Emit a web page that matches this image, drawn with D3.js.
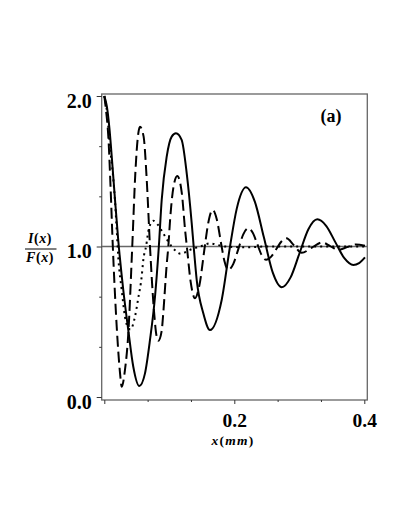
<!DOCTYPE html>
<html>
<head>
<meta charset="utf-8">
<script src="https://cdn.jsdelivr.net/npm/d3@7"></script>
<style>
html, body { margin: 0; padding: 0; background: #fff; }
svg { display: block; }
</style>
</head>
<body>
<div id="chart"></div>
<script>
// curve values, x in mm
const solidX = [0, 0.004, 0.008, 0.0114, 0.0165, 0.0215, 0.0292, 0.0369, 0.0446, 0.0538, 0.0626, 0.0703, 0.078, 0.0839, 0.0883, 0.096, 0.1037, 0.1103, 0.119, 0.1268, 0.1345, 0.1375, 0.1422, 0.1523, 0.1626, 0.1806, 0.1934, 0.2037, 0.218, 0.2317, 0.2455, 0.2592, 0.2729, 0.2866, 0.3003, 0.314, 0.3277, 0.3416, 0.3554, 0.3693, 0.3831, 0.392, 0.401];
const solidY = [2.0, 1.93, 1.78, 1.6, 1.31, 1.04, 0.711, 0.445, 0.201, 0.073, 0.157, 0.379, 0.666, 1.0, 1.309, 1.597, 1.73, 1.752, 1.708, 1.486, 1.154, 1.0, 0.777, 0.556, 0.445, 0.645, 1.0, 1.25, 1.393, 1.296, 1.061, 0.826, 0.729, 0.795, 0.955, 1.115, 1.181, 1.136, 1.029, 0.922, 0.877, 0.89, 0.928];

const dashedX = [0, 0.0026, 0.0065, 0.0095, 0.0131, 0.0191, 0.0242, 0.0268, 0.0318, 0.0369, 0.043, 0.0479, 0.0523, 0.0549, 0.0605, 0.0652, 0.0703, 0.0761, 0.0806, 0.0831, 0.0883, 0.0904, 0.096, 0.0985, 0.1011, 0.1062, 0.1123, 0.1191, 0.1245, 0.127, 0.1327, 0.1395, 0.1463, 0.1546, 0.16, 0.1668, 0.1728, 0.1805, 0.1848, 0.1908, 0.1985, 0.2062, 0.2138, 0.2215, 0.2284, 0.2353, 0.2421, 0.249, 0.2568, 0.2647, 0.2725, 0.2803, 0.292, 0.3037, 0.3194, 0.335, 0.3475, 0.36, 0.3735, 0.387, 0.401];
const dashedY = [2.0, 1.907, 1.708, 1.409, 1.0, 0.467, 0.159, 0.068, 0.18, 0.42, 1.0, 1.5, 1.752, 1.796, 1.73, 1.45, 1.0, 0.59, 0.4, 0.374, 0.44, 0.54, 0.88, 1.0, 1.17, 1.39, 1.468, 1.36, 1.1, 1.0, 0.77, 0.656, 0.742, 1.0, 1.158, 1.243, 1.185, 1.0, 0.903, 0.844, 0.885, 0.983, 1.081, 1.121, 1.091, 1.017, 0.943, 0.912, 0.933, 0.983, 1.033, 1.054, 1.006, 0.958, 0.993, 1.027, 1.003, 0.978, 0.996, 1.013, 1.005];

const dottedX = [0, 0.004, 0.0088, 0.0138, 0.0165, 0.0191, 0.0215, 0.0268, 0.0318, 0.0369, 0.0403, 0.0472, 0.0523, 0.0575, 0.06, 0.0642, 0.0688, 0.0754, 0.0826, 0.0903, 0.1037, 0.1175, 0.1318, 0.1472, 0.1626, 0.1857, 0.2165, 0.25, 0.401];
const dottedY = [2.0, 1.9, 1.66, 1.45, 1.3, 1.11, 0.93, 0.711, 0.534, 0.458, 0.449, 0.534, 0.658, 0.8, 0.91, 1.0, 1.123, 1.171, 1.143, 1.09, 1.0, 0.952, 0.978, 1.0, 1.02, 1.0, 0.995, 1.0, 1.0];

const xTicks = [0, 1 / 15, 2 / 15, 0.2, 4 / 15, 1 / 3, 0.4];
const xTickLabels = ["", "", "", "0.2", "", "", "0.4"];
const yTicks = [0, 1 / 3, 2 / 3, 1, 4 / 3, 5 / 3, 2];
const yTickLabels = ["0.0", "", "", "1.0", "", "", "2.0"];

const width = 409;
const height = 529;
const frame = { left: 101.7, right: 367.3, top: 94, bottom: 400 };
const serif = "'Liberation Serif', 'Times New Roman', serif";

const svg = d3.select("#chart")
    .append("svg")
    .attr("width", width)
    .attr("height", height);

const x = d3.scaleLinear().domain([0, 0.4]).range([104.3, 364.3]);
const y = d3.scaleLinear().domain([0, 2]).range([397, 96]);

// frame
svg.append("rect")
    .attr("x", frame.left)
    .attr("y", frame.top)
    .attr("width", frame.right - frame.left)
    .attr("height", frame.bottom - frame.top)
    .attr("fill", "none")
    .attr("stroke", "#666")
    .attr("stroke-width", 1.3);

// reference line at 1
svg.append("line")
    .attr("x1", frame.left).attr("x2", frame.right)
    .attr("y1", y(1)).attr("y2", y(1))
    .attr("stroke", "#666")
    .attr("stroke-width", 1.4);

// x axis
const gx = svg.append("g")
    .attr("transform", `translate(0,${frame.bottom})`)
    .call(d3.axisBottom(x)
        .tickValues(xTicks)
        .tickFormat((d, i) => xTickLabels[i])
        .tickSize(4)
        .tickPadding(9));
gx.select(".domain").remove();
gx.selectAll(".tick line")
    .attr("y2", (d, i) => (i % 3 === 0 ? 4 : 2))
    .attr("stroke", "#333");
gx.selectAll("text")
    .attr("font-family", serif)
    .attr("font-size", 19.5)
    .attr("font-weight", "bold")
    .attr("fill", "#000");

// y axis
const gy = svg.append("g")
    .attr("transform", `translate(${frame.left},0)`)
    .call(d3.axisLeft(y)
        .tickValues(yTicks)
        .tickFormat((d, i) => yTickLabels[i])
        .tickSize(5)
        .tickPadding(5));
gy.select(".domain").remove();
gy.selectAll(".tick line")
    .attr("x2", (d, i) => (i % 3 === 0 ? -5 : -2.5))
    .attr("stroke", "#333");
gy.selectAll("text")
    .attr("dy", "0.55em")
    .attr("font-family", serif)
    .attr("font-size", 20)
    .attr("font-weight", "bold")
    .attr("fill", "#000");

// curves
const line = d3.line()
    .x(d => x(d[0]))
    .y(d => y(d[1]))
    .curve(d3.curveMonotoneX);

const series = [
    { xs: solidX, ys: solidY, dash: null },
    { xs: dashedX, ys: dashedY, dash: "11,5" },
    { xs: dottedX, ys: dottedY, dash: "2,4" }
];

svg.selectAll("path.curve")
    .data(series)
    .enter()
    .append("path")
    .attr("class", "curve")
    .attr("d", d => line(d3.zip(d.xs, d.ys)))
    .attr("fill", "none")
    .attr("stroke", "#000")
    .attr("stroke-width", 2)
    .attr("stroke-dasharray", d => d.dash);

// x axis title
const xt = svg.append("text")
    .attr("x", 233)
    .attr("y", 445)
    .attr("text-anchor", "middle")
    .attr("font-family", serif)
    .attr("font-size", 13.5)
    .attr("font-weight", "bold")
    .attr("letter-spacing", 1.2);
xt.append("tspan").attr("font-style", "italic").text("x");
xt.append("tspan").text("(");
xt.append("tspan").attr("font-style", "italic").text("mm");
xt.append("tspan").text(")");

// y axis title, as a fraction
function fracPart(text, yPos) {
    const t = svg.append("text")
        .attr("x", 40)
        .attr("y", yPos)
        .attr("text-anchor", "middle")
        .attr("font-family", serif)
        .attr("font-size", 14)
        .attr("font-weight", "bold")
        .attr("letter-spacing", 0.6);
    t.append("tspan").attr("font-style", "italic").text(text);
    t.append("tspan").text("(");
    t.append("tspan").attr("font-style", "italic").text("x");
    t.append("tspan").text(")");
}
fracPart("I", 243);
fracPart("F", 262);
svg.append("line")
    .attr("x1", 25).attr("x2", 56.5)
    .attr("y1", 249).attr("y2", 249)
    .attr("stroke", "#000")
    .attr("stroke-width", 1);

// panel label
svg.append("text")
    .attr("x", 331)
    .attr("y", 122)
    .attr("text-anchor", "middle")
    .attr("font-family", serif)
    .attr("font-size", 18)
    .attr("font-weight", "bold")
    .text("(a)");
</script>
</body>
</html>
